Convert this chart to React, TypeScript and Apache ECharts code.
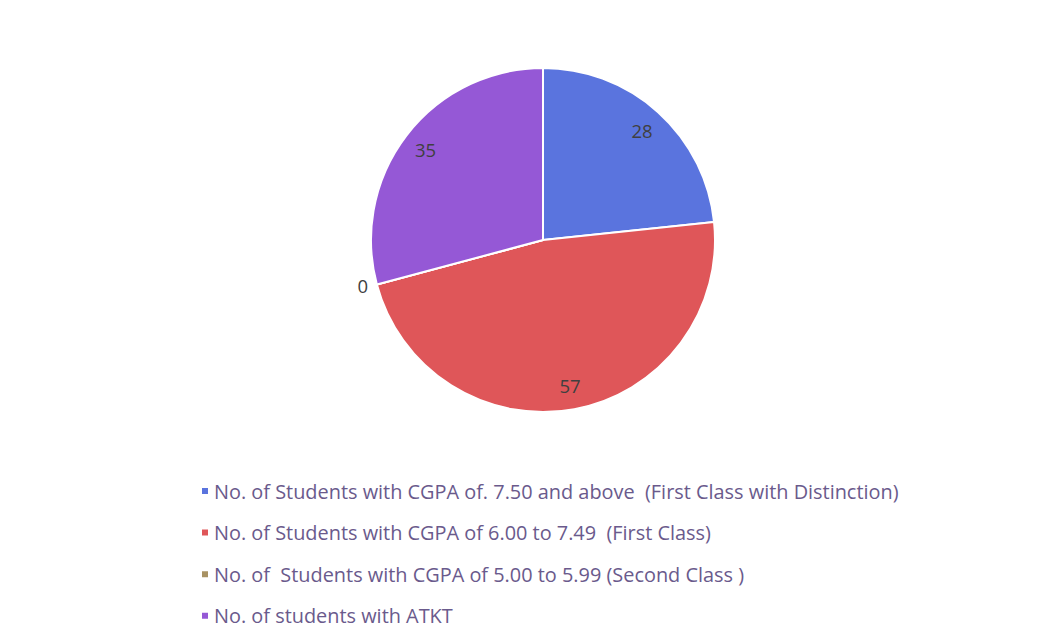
import React, { useEffect, useRef } from "react";
import * as echarts from "echarts";

const categories = [
  "No. of Students with CGPA of. 7.50 and above  (First Class with Distinction)",
  "No. of Students with CGPA of 6.00 to 7.49  (First Class)",
  "No. of  Students with CGPA of 5.00 to 5.99 (Second Class )",
  "No. of students with ATKT",
];
const values = [28, 57, 0, 35];
const colors = ["#5a74de", "#df5659", "#a89263", "#9558d6"];

export default function App() {
  const ref = useRef<HTMLDivElement>(null);
  useEffect(() => {
    if (!ref.current) return;
    const chart = echarts.init(ref.current, null, { renderer: "svg" });
    const font = "'Open Sans', 'Noto Sans', sans-serif";
    const baseData = categories.map((name, i) => ({
      name,
      value: values[i],
      itemStyle: { color: colors[i] },
    }));
    const labelData = categories.map((name, i) => ({
      name,
      value: values[i],
      label:
        values[i] === 0
          ? { position: "outside", distance: 4 }
          : { position: "inside" },
    }));
    chart.setOption({
      animation: false,
      backgroundColor: "#ffffff",
      legend: {
        orient: "vertical",
        left: 195,
        top: 476,
        icon: "rect",
        itemWidth: 8,
        itemHeight: 8,
        itemGap: 21.6,
        data: categories,
        textStyle: {
          fontFamily: font,
          fontSize: 19.9,
          color: "#6a5a8c",
          lineHeight: 20,
        },
        selectedMode: false,
      },
      series: [
        {
          type: "pie",
          center: [543, 240],
          radius: [0, 172],
          startAngle: 90,
          clockwise: true,
          data: baseData,
          label: { show: false },
          labelLine: { show: false },
          itemStyle: { borderColor: "#ffffff", borderWidth: 2 },
          emphasis: { disabled: true },
          silent: true,
        },
        {
          type: "pie",
          center: [543, 240],
          radius: [118, 172],
          startAngle: 90,
          clockwise: true,
          data: labelData,
          itemStyle: { color: "rgba(0,0,0,0)" },
          label: {
            show: true,
            formatter: "{c}",
            fontFamily: font,
            fontSize: 18.5,
            color: "#404040",
          },
          labelLine: { show: false, length: 4, length2: 0 },
          emphasis: { disabled: true },
          silent: true,
          legendHoverLink: false,
        },
      ],
    });
    return () => chart.dispose();
  }, []);
  return (
    <div
      ref={ref}
      style={{ position: "fixed", left: 0, top: 0, width: 1064, height: 642 }}
    />
  );
}
